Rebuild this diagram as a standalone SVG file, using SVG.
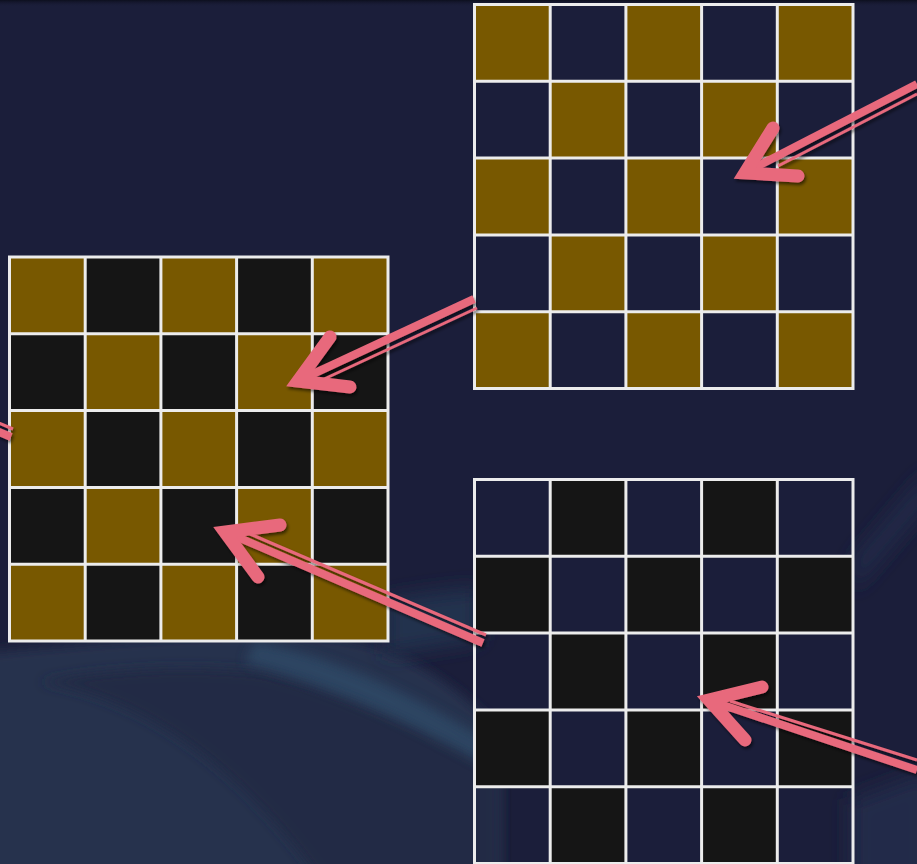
<svg xmlns="http://www.w3.org/2000/svg" width="917" height="864" viewBox="0 0 917 864">
  <defs>
    <style>
      .gold { fill: #785800; }
      .blk { fill: #151515; }
      .grid { fill: none; stroke: #ececec; stroke-width: 3; }
      .shaft { stroke: #e8697c; stroke-width: 8; stroke-linecap: butt; fill: none; }
      .thin { stroke: #e8697c; stroke-width: 3; stroke-linecap: butt; fill: none; }
      .head { stroke: #e8697c; stroke-width: 13; stroke-linecap: round; stroke-linejoin: miter; stroke-miterlimit: 6; fill: none; }
    </style>
    <filter id="shadow" x="-20%" y="-20%" width="140%" height="140%">
      <feDropShadow dx="1.5" dy="2.5" stdDeviation="1.5" flood-color="#000" flood-opacity="0.55"/>
    </filter>
    <filter id="blur6" x="-30%" y="-30%" width="160%" height="160%">
      <feGaussianBlur stdDeviation="6"/>
    </filter>
    <filter id="blur10" x="-30%" y="-30%" width="160%" height="160%">
      <feGaussianBlur stdDeviation="10"/>
    </filter>
    <linearGradient id="topshade" x1="0" y1="0" x2="0" y2="1">
      <stop offset="0" stop-color="#0d0f1e" stop-opacity="1"/>
      <stop offset="1" stop-color="#1b1e3a" stop-opacity="0"/>
    </linearGradient>
  </defs>

  <!-- background -->
  <rect x="0" y="0" width="917" height="864" fill="#1b1e3a"/>
  <rect x="0" y="0" width="917" height="7" fill="url(#topshade)"/>
  <g id="dunes">
    <path d="M-40,655 C120,640 250,628 340,638 C410,650 460,690 500,730 L500,900 L-40,900 Z" fill="#27324d" filter="url(#blur6)"/>
    <path d="M40,682 C150,700 240,770 320,880 L500,880 L500,765 C420,725 340,690 260,672 C180,664 100,670 40,682 Z" fill="#212a45" filter="url(#blur6)"/>
    <path d="M255,642 C350,660 420,700 490,742 L485,765 C420,728 340,688 245,662 Z" fill="#2e4866" opacity="0.85" filter="url(#blur6)"/>
    <path d="M385,600 C420,594 450,590 480,588 L480,640 L385,655 Z" fill="#24304d" filter="url(#blur10)"/>
    <path d="M853,560 L930,470 L930,500 L853,590 Z" fill="#242a4a" filter="url(#blur10)"/>
    <path d="M850,800 L930,770 L930,900 L850,900 Z" fill="#232c48" filter="url(#blur10)"/>
  </g>

  <!-- left grid -->
  <g id="grid-left">
    <rect class="gold" x="9.5" y="257" width="75.7" height="76.8"/>
    <rect class="blk" x="85.2" y="257" width="75.7" height="76.8"/>
    <rect class="gold" x="160.9" y="257" width="75.7" height="76.8"/>
    <rect class="blk" x="236.6" y="257" width="75.7" height="76.8"/>
    <rect class="gold" x="312.3" y="257" width="75.7" height="76.8"/>

    <rect class="blk" x="9.5" y="333.8" width="75.7" height="76.8"/>
    <rect class="gold" x="85.2" y="333.8" width="75.7" height="76.8"/>
    <rect class="blk" x="160.9" y="333.8" width="75.7" height="76.8"/>
    <rect class="gold" x="236.6" y="333.8" width="75.7" height="76.8"/>
    <rect class="blk" x="312.3" y="333.8" width="75.7" height="76.8"/>

    <rect class="gold" x="9.5" y="410.6" width="75.7" height="76.8"/>
    <rect class="blk" x="85.2" y="410.6" width="75.7" height="76.8"/>
    <rect class="gold" x="160.9" y="410.6" width="75.7" height="76.8"/>
    <rect class="blk" x="236.6" y="410.6" width="75.7" height="76.8"/>
    <rect class="gold" x="312.3" y="410.6" width="75.7" height="76.8"/>

    <rect class="blk" x="9.5" y="487.4" width="75.7" height="76.8"/>
    <rect class="gold" x="85.2" y="487.4" width="75.7" height="76.8"/>
    <rect class="blk" x="160.9" y="487.4" width="75.7" height="76.8"/>
    <rect class="gold" x="236.6" y="487.4" width="75.7" height="76.8"/>
    <rect class="blk" x="312.3" y="487.4" width="75.7" height="76.8"/>

    <rect class="gold" x="9.5" y="564.2" width="75.7" height="76.8"/>
    <rect class="blk" x="85.2" y="564.2" width="75.7" height="76.8"/>
    <rect class="gold" x="160.9" y="564.2" width="75.7" height="76.8"/>
    <rect class="blk" x="236.6" y="564.2" width="75.7" height="76.8"/>
    <rect class="gold" x="312.3" y="564.2" width="75.7" height="76.8"/>

    <path class="grid" d="M9.5,257 H388 V641 H9.5 Z M85.2,257 V641 M160.9,257 V641 M236.6,257 V641 M312.3,257 V641 M9.5,333.8 H388 M9.5,410.6 H388 M9.5,487.4 H388 M9.5,564.2 H388"/>
  </g>

  <!-- top-right grid -->
  <g id="grid-top-right">
    <rect class="gold" x="474.5" y="4.5" width="75.7" height="76.8"/>
    <rect class="gold" x="625.9" y="4.5" width="75.7" height="76.8"/>
    <rect class="gold" x="777.3" y="4.5" width="75.7" height="76.8"/>

    <rect class="gold" x="550.2" y="81.3" width="75.7" height="76.8"/>
    <rect class="gold" x="701.6" y="81.3" width="75.7" height="76.8"/>

    <rect class="gold" x="474.5" y="158.1" width="75.7" height="76.8"/>
    <rect class="gold" x="625.9" y="158.1" width="75.7" height="76.8"/>
    <rect class="gold" x="777.3" y="158.1" width="75.7" height="76.8"/>

    <rect class="gold" x="550.2" y="234.9" width="75.7" height="76.8"/>
    <rect class="gold" x="701.6" y="234.9" width="75.7" height="76.8"/>

    <rect class="gold" x="474.5" y="311.7" width="75.7" height="76.8"/>
    <rect class="gold" x="625.9" y="311.7" width="75.7" height="76.8"/>
    <rect class="gold" x="777.3" y="311.7" width="75.7" height="76.8"/>

    <path class="grid" d="M474.5,4.5 H853 V388.5 H474.5 Z M550.2,4.5 V388.5 M625.9,4.5 V388.5 M701.6,4.5 V388.5 M777.3,4.5 V388.5 M474.5,81.3 H853 M474.5,158.1 H853 M474.5,234.9 H853 M474.5,311.7 H853"/>
  </g>

  <!-- bottom-right grid -->
  <g id="grid-bottom-right">
    <rect class="blk" x="550.2" y="479.5" width="75.7" height="76.8"/>
    <rect class="blk" x="701.6" y="479.5" width="75.7" height="76.8"/>

    <rect class="blk" x="474.5" y="556.3" width="75.7" height="76.8"/>
    <rect class="blk" x="625.9" y="556.3" width="75.7" height="76.8"/>
    <rect class="blk" x="777.3" y="556.3" width="75.7" height="76.8"/>

    <rect class="blk" x="550.2" y="633.1" width="75.7" height="76.8"/>
    <rect class="blk" x="701.6" y="633.1" width="75.7" height="76.8"/>

    <rect class="blk" x="474.5" y="709.9" width="75.7" height="76.8"/>
    <rect class="blk" x="625.9" y="709.9" width="75.7" height="76.8"/>
    <rect class="blk" x="777.3" y="709.9" width="75.7" height="76.8"/>

    <rect class="blk" x="550.2" y="786.7" width="75.7" height="76.8"/>
    <rect class="blk" x="701.6" y="786.7" width="75.7" height="76.8"/>

    <path class="grid" d="M474.5,479.5 H853 V863.5 H474.5 Z M550.2,479.5 V863.5 M625.9,479.5 V863.5 M701.6,479.5 V863.5 M777.3,479.5 V863.5 M474.5,556.3 H853 M474.5,633.1 H853 M474.5,709.9 H853 M474.5,786.7 H853"/>
  </g>

  <!-- connectors -->
  <g id="connectors" filter="url(#shadow)">
    <g id="arrow-1">
      <line class="thin" x1="917" y1="94" x2="778" y2="166"/>
      <line class="shaft" x1="917" y1="84" x2="748" y2="171"/>
      <path class="head" d="M773,128 L745,173 L798,176"/>
    </g>
    <g id="arrow-2">
      <line class="thin" x1="477" y1="308" x2="322" y2="380"/>
      <line class="shaft" x1="474" y1="299" x2="300" y2="380"/>
      <path class="head" d="M330,337 L298,381 L350,387"/>
    </g>
    <g id="arrow-3">
      <line class="thin" x1="486" y1="635" x2="250" y2="534"/>
      <line class="shaft" x1="483" y1="643" x2="228" y2="533"/>
      <path class="head" d="M280,525 L225,532 L258,577"/>
    </g>
    <g id="arrow-4">
      <line class="thin" x1="917" y1="760" x2="730" y2="701"/>
      <line class="shaft" x1="917" y1="770" x2="711" y2="701"/>
      <path class="head" d="M762,687 L709,700 L745,740"/>
    </g>
    <g id="arrow-5">
      <line class="thin" x1="13" y1="429" x2="-20" y2="415"/>
      <line class="shaft" x1="11" y1="437" x2="-20" y2="424"/>
    </g>
  </g>
</svg>
